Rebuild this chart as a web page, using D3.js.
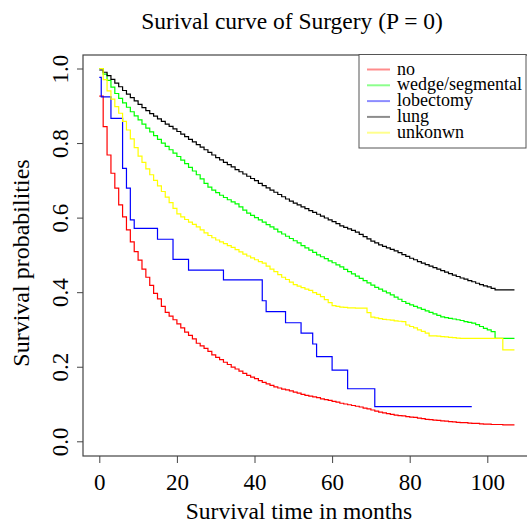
<!DOCTYPE html>
<html>
<head>
<meta charset="utf-8">
<script src="https://cdn.jsdelivr.net/npm/d3@7/dist/d3.min.js"></script>
<style>
  html, body { margin: 0; padding: 0; background: #fff; }
  svg { display: block; }
  text { font-family: "Liberation Serif", "Times New Roman", serif; fill: #000; }
</style>
</head>
<body>
<svg id="chart" width="527" height="525"></svg>
<script>
// Kaplan-Meier estimates by surgery type, survival time in whole months
const months = [0,1,2,3,4,5,6,7,8,9,10,11,12,13,14,15,16,17,18,19,20,21,22,23,24,25,26,27,28,29,
  30,31,32,33,34,35,36,37,38,39,40,41,42,43,44,45,46,47,48,49,50,51,52,53,54,55,56,57,58,59,
  60,61,62,63,64,65,66,67,68,69,70,71,72,73,74,75,76,77,78,79,80,81,82,83,84,85,86,87,88,89,
  90,91,92,93,94,95,96,97,98,99,100,101,102,103,104,105,106,107];

const survNo = [0.926,0.844,0.768,0.719,0.679,0.634,0.602,0.567,0.535,0.509,0.486,0.462,0.440,0.418,0.397,
  0.382,0.362,0.346,0.336,0.326,0.315,0.304,0.293,0.284,0.275,0.263,0.256,0.249,0.241,0.232,
  0.225,0.219,0.212,0.206,0.199,0.194,0.188,0.182,0.177,0.172,0.168,0.163,0.158,0.154,0.150,
  0.146,0.143,0.140,0.138,0.135,0.132,0.129,0.126,0.123,0.121,0.119,0.117,0.114,0.112,0.110,
  0.107,0.105,0.102,0.100,0.098,0.096,0.094,0.092,0.089,0.087,0.084,0.081,0.078,0.076,0.074,
  0.072,0.070,0.069,0.068,0.066,0.065,0.064,0.062,0.061,0.059,0.058,0.057,0.056,0.055,0.054,
  0.053,0.052,0.051,0.050,0.050,0.049,0.048,0.048,0.047,0.046,0.046,0.045,0.045,0.045,0.044,
  0.044,0.044,0.044];

const survWedge = [1.000,0.985,0.968,0.950,0.933,0.920,0.908,0.896,0.884,0.873,0.862,0.851,0.840,0.830,0.820,
  0.810,0.800,0.791,0.782,0.773,0.764,0.754,0.745,0.735,0.725,0.715,0.704,0.692,0.682,0.674,
  0.667,0.660,0.654,0.648,0.642,0.637,0.629,0.620,0.612,0.606,0.600,0.594,0.588,0.581,0.575,
  0.569,0.562,0.556,0.550,0.544,0.538,0.532,0.525,0.519,0.513,0.507,0.500,0.495,0.490,0.484,
  0.479,0.473,0.468,0.461,0.455,0.449,0.443,0.437,0.431,0.425,0.419,0.413,0.408,0.403,0.398,
  0.393,0.387,0.381,0.375,0.370,0.366,0.362,0.358,0.354,0.350,0.346,0.342,0.338,0.334,0.332,
  0.330,0.328,0.326,0.324,0.321,0.319,0.317,0.313,0.308,0.303,0.299,0.294,0.276,0.276,0.276,
  0.276,0.276,0.276];

const survLung = [0.996,0.990,0.981,0.971,0.961,0.951,0.941,0.931,0.922,0.913,0.904,0.895,0.887,0.879,0.872,
  0.865,0.858,0.851,0.845,0.838,0.831,0.824,0.817,0.810,0.803,0.796,0.789,0.782,0.775,0.768,
  0.761,0.755,0.748,0.742,0.736,0.729,0.723,0.717,0.711,0.705,0.699,0.692,0.686,0.680,0.674,
  0.668,0.662,0.656,0.650,0.644,0.639,0.634,0.629,0.624,0.619,0.614,0.609,0.604,0.599,0.594,
  0.589,0.584,0.578,0.574,0.570,0.566,0.561,0.555,0.549,0.543,0.537,0.532,0.527,0.523,0.519,
  0.515,0.511,0.506,0.501,0.496,0.491,0.487,0.482,0.478,0.474,0.470,0.466,0.462,0.458,0.454,
  0.450,0.446,0.442,0.438,0.435,0.431,0.428,0.424,0.420,0.417,0.414,0.410,0.406,0.406,0.406,
  0.406,0.406,0.406];

const survUnknown = [1.000,0.970,0.940,0.918,0.898,0.880,0.858,0.835,0.811,0.788,0.765,0.748,0.731,0.715,0.700,
  0.685,0.670,0.655,0.640,0.625,0.610,0.602,0.595,0.588,0.582,0.575,0.567,0.559,0.552,0.546,
  0.540,0.535,0.530,0.525,0.520,0.514,0.508,0.502,0.497,0.492,0.487,0.482,0.478,0.470,0.462,
  0.455,0.447,0.440,0.434,0.427,0.420,0.416,0.412,0.408,0.405,0.399,0.394,0.388,0.380,0.372,
  0.364,0.362,0.360,0.359,0.358,0.358,0.357,0.357,0.357,0.345,0.333,0.331,0.329,0.327,0.326,
  0.325,0.323,0.322,0.321,0.312,0.308,0.304,0.299,0.295,0.290,0.283,0.283,0.282,0.281,0.280,
  0.279,0.278,0.277,0.276,0.276,0.276,0.276,0.276,0.276,0.276,0.276,0.276,0.276,0.276,0.245,
  0.245,0.245,0.245];

// lobectomy has few events: its own event times
const lobectomyTimes = [0,0.5,3,6,7,8,9,15,19,23,32,42,43,48,52,55,56,60,64,71,96];
const lobectomySurv  = [0.976,0.924,0.866,0.732,0.679,0.594,0.571,0.542,0.488,0.459,0.433,
  0.377,0.348,0.318,0.290,0.261,0.227,0.191,0.141,0.093,0.093];

const groups = ["no", "wedge/segmental", "lobectomy", "lung", "unkonwn"];
const groupColors = ["#ff0000", "#00ff00", "#0000ff", "#000000", "#ffff00"];
const xTicks = [0, 20, 40, 60, 80, 100];
const yTicks = [0, 0.2, 0.4, 0.6, 0.8, 1.0];
const titleText = "Surival curve of Surgery (P = 0)";
const xTitle = "Survival time in months";
const yTitle = "Survival probabilities";

const svg = d3.select("#chart");

// plotting region (right edge runs past the page)
const box = { left: 83, top: 55, right: 531, bottom: 456 };

const x = d3.scaleLinear().domain([0, 100]).range([99.3, 487.3]);
const y = d3.scaleLinear().domain([0, 1]).range([441.3, 68.5]);

const series = [
  { name: groups[0], color: groupColors[0], pts: months.map((m, i) => [m, survNo[i]]) },
  { name: groups[1], color: groupColors[1], pts: months.map((m, i) => [m, survWedge[i]]) },
  { name: groups[2], color: groupColors[2], pts: lobectomyTimes.map((m, i) => [m, lobectomySurv[i]]) },
  { name: groups[3], color: groupColors[3], pts: months.map((m, i) => [m, survLung[i]]) },
  { name: groups[4], color: groupColors[4], pts: months.map((m, i) => [m, survUnknown[i]]) }
];

const line = d3.line()
  .x(d => x(d[0]))
  .y(d => y(d[1]))
  .curve(d3.curveStepAfter);

svg.append("g").selectAll("path")
  .data(series)
  .join("path")
  .attr("d", d => line(d.pts))
  .attr("fill", "none")
  .attr("stroke", d => d.color)
  .attr("stroke-width", 1.2);

// frame around the plotting region
svg.append("rect")
  .attr("x", box.left).attr("y", box.top)
  .attr("width", box.right - box.left).attr("height", box.bottom - box.top)
  .attr("fill", "none").attr("stroke", "#444").attr("stroke-width", 1.2);

// x axis
const xAxis = svg.append("g")
  .attr("transform", `translate(0,${box.bottom})`)
  .call(d3.axisBottom(x).tickValues(xTicks).tickSize(7).tickPadding(4).tickFormat(d3.format("d")));
xAxis.select(".domain").remove();
xAxis.selectAll(".tick line").attr("stroke", "#444");
xAxis.selectAll(".tick text")
  .attr("font-size", 23).attr("dy", null).attr("y", 34)
  .style("font-family", "'Liberation Serif', serif");

// y axis, labels turned to read upward
const yAxis = svg.append("g")
  .attr("transform", `translate(${box.left},0)`)
  .call(d3.axisLeft(y).tickValues(yTicks).tickSize(6).tickFormat(d3.format(".1f")));
yAxis.select(".domain").remove();
yAxis.selectAll(".tick line").attr("stroke", "#444");
yAxis.selectAll(".tick text")
  .attr("font-size", 23)
  .attr("x", null).attr("dy", null)
  .attr("text-anchor", "middle")
  .attr("transform", "translate(-15,0) rotate(-90)")
  .style("font-family", "'Liberation Serif', serif");

// titles
svg.append("text")
  .attr("x", 292).attr("y", 29)
  .attr("text-anchor", "middle").attr("font-size", 23.5)
  .text(titleText);

svg.append("text")
  .attr("x", 299).attr("y", 519)
  .attr("text-anchor", "middle").attr("font-size", 23.5)
  .text(xTitle);

svg.append("text")
  .attr("transform", "translate(28.5,263) rotate(-90)")
  .attr("text-anchor", "middle").attr("font-size", 24)
  .text(yTitle);

// legend
const legend = svg.append("g");
legend.append("rect")
  .attr("x", 359).attr("y", 54.5).attr("width", 167).attr("height", 93.5)
  .attr("fill", "#fff").attr("stroke", "#555").attr("stroke-width", 1);
const rowY = d3.scalePoint().domain(groups).range([69.5, 132.7]);
const rows = legend.selectAll("g.row").data(series).join("g")
  .attr("class", "row")
  .attr("transform", d => `translate(0,${rowY(d.name)})`);
rows.append("line")
  .attr("x1", 367).attr("x2", 390)
  .attr("stroke", d => d.color).attr("stroke-width", 2).attr("stroke-opacity", 0.45);
rows.append("text")
  .attr("x", 397).attr("y", 5)
  .attr("font-size", 18)
  .text(d => d.name);
</script>
</body>
</html>
